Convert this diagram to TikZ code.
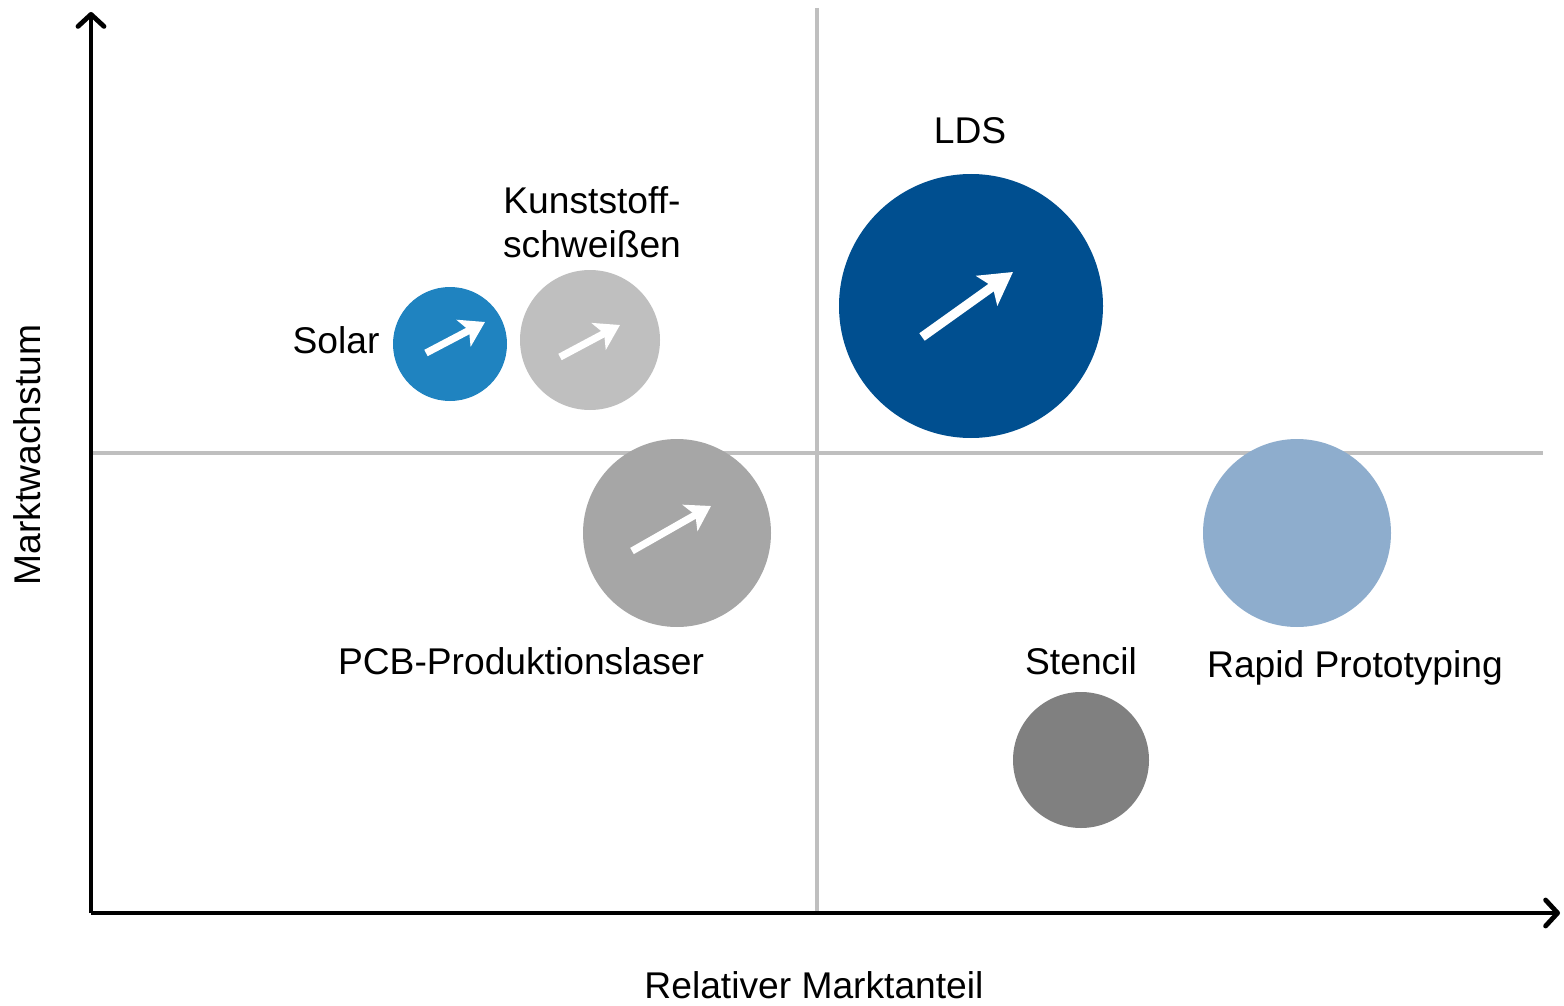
\documentclass[tikz,border=0pt]{standalone}
\usepackage{fontspec}
\setmainfont{Liberation Sans}
\usetikzlibrary{arrows.meta}
\definecolor{solarc}{RGB}{31,131,192}
\definecolor{kunstc}{RGB}{191,191,191}
\definecolor{ldsc}{RGB}{0,79,144}
\definecolor{pcbc}{RGB}{166,166,166}
\definecolor{rapidc}{RGB}{142,173,205}
\definecolor{stencilc}{RGB}{128,128,128}
\definecolor{gridc}{RGB}{191,191,191}
\tikzset{
  axis/.style={line width=2pt, -{Straight Barb[length=6pt,width=13pt,line width=2.4pt,round]}},
  quad/.style={draw=gridc, line width=2pt},
  bubble/.style={circle, inner sep=0pt, draw=none},
  lbl/.style={font=\fontsize{18.6}{22}\selectfont, inner sep=0pt, align=center},
  trend/.style={draw=white, line width=3.6pt, -{Stealth[length=12pt,width=15pt,inset=3pt]}},
  bigtrend/.style={draw=white, line width=4.6pt, -{Stealth[length=16pt,width=18pt,inset=3.5pt]}}
}
\begin{document}
\begin{tikzpicture}[x=0.5pt,y=-0.5pt]
\useasboundingbox (0,0) rectangle (1564,1006);
% quadrant lines
\coordinate (vt) at (817,8);
\coordinate (vb) at (817,913);
\coordinate (hl) at (91,453);
\coordinate (hr) at (1543,453);
\draw[quad] (vt) -- (vb);
\draw[quad] (hl) -- (hr);
% axes
\coordinate (o) at (91,913);
\coordinate (ytop) at (91,12);
\coordinate (xend) at (1560,913);
\draw[axis] (o) -- (ytop);
\draw[axis] (o) -- (xend);
% bubbles
\node[bubble, fill=solarc, minimum size=57pt] (solar) at (450,344) {};
\node[bubble, fill=kunstc, minimum size=70pt] (kunst) at (590,340) {};
\node[bubble, fill=ldsc, minimum size=132pt] (lds) at (971,306) {};
\node[bubble, fill=pcbc, minimum size=94pt] (pcb) at (677,533) {};
\node[bubble, fill=rapidc, minimum size=94pt] (rapid) at (1297,533) {};
\node[bubble, fill=stencilc, minimum size=68pt] (stencil) at (1081,760) {};
% trend arrows
\coordinate (s1) at (426,353); \coordinate (s2) at (485,322);
\coordinate (k1) at (560,357); \coordinate (k2) at (620,325);
\coordinate (l1) at (922,337); \coordinate (l2) at (1013,272);
\coordinate (p1) at (632,551); \coordinate (p2) at (711,506);
\draw[trend] (s1) -- (s2);
\draw[trend] (k1) -- (k2);
\draw[bigtrend] (l1) -- (l2);
\draw[trend] (p1) -- (p2);
% labels
\node[lbl] (tlds) at (970,131) {LDS};
\node[lbl] (tkunst) at (592,222) {Kunststoff-\\schweißen};
\node[lbl] (tsolar) at (336,340) {Solar};
\node[lbl] (tpcb) at (521,661) {PCB-Produktionslaser};
\node[lbl] (tstencil) at (1081,661) {Stencil};
\node[lbl] (trapid) at (1355,668) {Rapid Prototyping};
\node[lbl] (txaxis) at (814,985) {Relativer Marktanteil};
\node[lbl, rotate=90] (tyaxis) at (27,455) {Marktwachstum};
\end{tikzpicture}
\end{document}
